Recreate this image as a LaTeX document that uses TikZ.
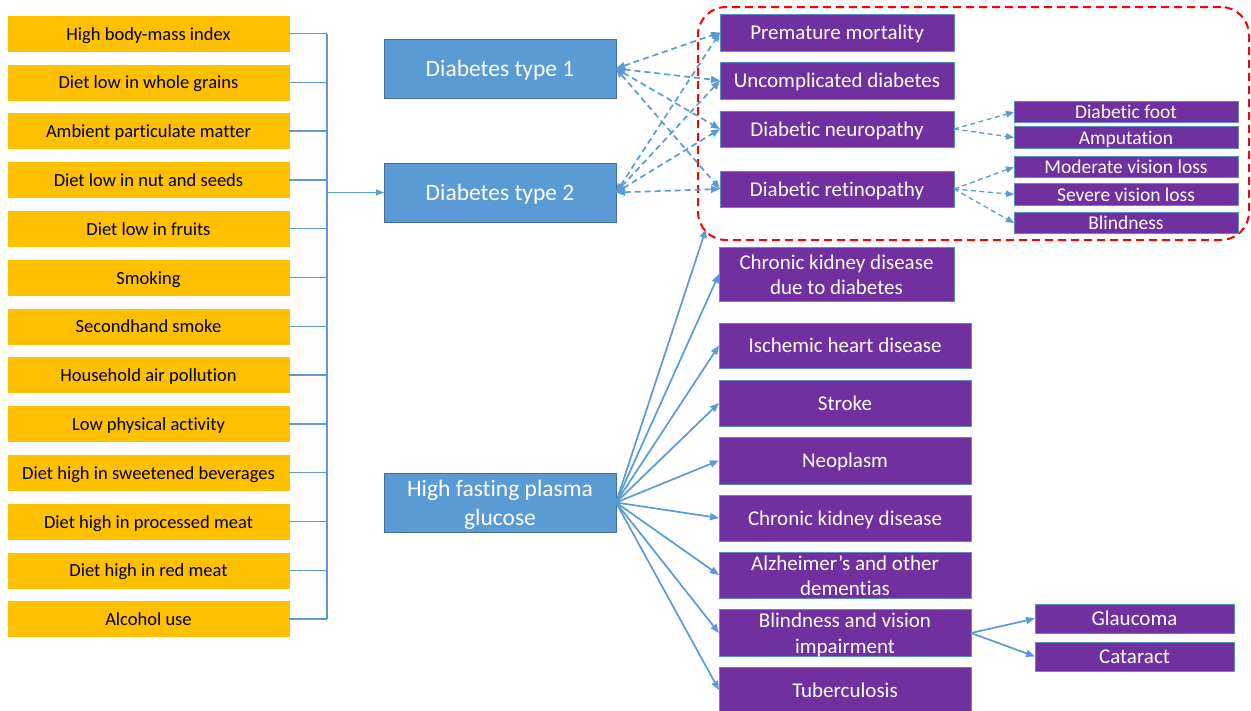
\documentclass[tikz,border=0pt]{standalone}
\usepackage{fontspec}
\setmainfont{Carlito}[RawFeature={-liga}]
\usetikzlibrary{arrows.meta}
\definecolor{ybg}{HTML}{FFC000}
\definecolor{bfill}{HTML}{5B9BD5}
\definecolor{bdraw}{HTML}{41719C}
\definecolor{pfill}{HTML}{7030A0}
\definecolor{pdraw}{HTML}{5B8DC0}
\definecolor{lnk}{HTML}{5B9BD5}
\newcommand{\firstline}[1]{\rule{0pt}{#1}}
\newcommand{\lastline}[1]{\rule[-#1]{0pt}{0pt}}
\tikzset{
  ybox/.style={text height=16pt, text depth=3pt, fill=ybg, draw=ybg, inner sep=0pt, outer sep=0pt, minimum width=281pt, minimum height=35pt, text=black, font=\fontsize{18.5}{22}\selectfont},
  bbase/.style={fill=bfill, draw=bdraw, line width=1pt, inner sep=0pt, outer sep=0pt, minimum width=232pt, minimum height=59pt, text=white, align=center, font=\fontsize{23.5}{29}\selectfont},
  bbox/.style={bbase, text height=20.5pt, text depth=4pt},
  pbase/.style={fill=pfill, draw=pdraw, line width=1pt, inner sep=0pt, outer sep=0pt, text=white, align=center, font=\fontsize{21}{25.5}\selectfont},
  pbox/.style={pbase, text height=18.7pt, text depth=4pt},
  sbox/.style={pbase, text height=17.7pt, text depth=4pt, minimum width=224pt, minimum height=21pt, font=\fontsize{19.5}{23}\selectfont},
  brk/.style={draw=lnk, line width=1.3pt},
  conn/.style={draw=lnk, line width=1.7pt, -{Triangle[length=9pt,width=7pt]}},
  dconn/.style={draw=lnk, line width=1.7pt, dash pattern=on 6pt off 4pt, {Triangle[length=9pt,width=7pt]}-{Triangle[length=9pt,width=7pt]}},
  sdconn/.style={draw=lnk, line width=1.3pt, dash pattern=on 5pt off 3.5pt, -{Triangle[length=8pt,width=6.5pt]}},
  redbox/.style={draw=red, line width=2pt, dash pattern=on 8pt off 5pt, rounded corners=28pt, inner sep=0pt, outer sep=0pt}
}
\begin{document}
\begin{tikzpicture}[x=1pt,y=-1pt]
\useasboundingbox (0,0) rectangle (1251,710);
\clip (0,0) rectangle (1251,710);
% risk factors
\foreach \t [count=\i from 0] in {High body-mass index,Diet low in whole grains,Ambient particulate matter,Diet low in nut and seeds,Diet low in fruits,Smoking,Secondhand smoke,Household air pollution,Low physical activity,Diet high in sweetened beverages,Diet high in processed meat,Diet high in red meat,Alcohol use}{
  \node[ybox] (y\i) at (148.5,{33.5+48.8*\i}) {\t};
}
% bracket
\coordinate (bt) at (327,33.5);
\coordinate (bb) at (327,619);
\coordinate (bm) at (327,192.5);
\draw[brk] (bt) -- (bb);
\foreach \i in {0,...,12}{ \draw[brk] (y\i.east) -- (y\i.east -| bt); }
% blue boxes
\node[bbox] (t1) at (500,68.5) {Diabetes type 1};
\node[bbox] (t2) at (500,192.5) {Diabetes type 2};
\node[bbase] (hf) at (500,502.5) {\firstline{22.9pt}High fasting plasma\\glucose\lastline{5.5pt}};
\draw[brk, -{Triangle[length=8pt,width=6pt]}] (bm) -- (t2.west);
% red dashed group
\node[redbox, minimum width=551pt, minimum height=233pt] (grp) at (973.5,123.5) {};
% diabetes complications
\node[pbox, minimum width=234pt, minimum height=37pt] (pm) at (837,32.5) {Premature mortality};
\node[pbox, minimum width=234pt, minimum height=37pt] (ud) at (837,80.5) {Uncomplicated diabetes};
\node[pbox, minimum width=234pt, minimum height=36pt] (dn) at (837,129) {Diabetic neuropathy};
\node[pbox, minimum width=234pt, minimum height=36pt] (dr) at (837,189) {Diabetic retinopathy};
\node[sbox] (foot) at (1126,112) {Diabetic foot};
\node[sbox] (amp) at (1126,137.5) {Amputation};
\node[sbox] (mod) at (1126,167) {Moderate vision loss};
\node[sbox] (sev) at (1126,194.5) {Severe vision loss};
\node[sbox] (bli) at (1126,223) {Blindness};
% dashed links
\foreach \s in {t1,t2}{ \foreach \d in {pm,ud,dn,dr}{ \draw[dconn] (\s.east) -- (\d.west); } }
\draw[sdconn] (dn.east) -- (foot.west);
\draw[sdconn] (dn.east) -- (amp.west);
\draw[sdconn] (dr.east) -- (mod.west);
\draw[sdconn] (dr.east) -- (sev.west);
\draw[sdconn] (dr.east) -- (bli.west);
% HFPG outcomes
\node[pbase, minimum width=235pt, minimum height=54pt] (ckdd) at (836.5,274) {\firstline{20.5pt}Chronic kidney disease\\due to diabetes\lastline{5pt}};
\node[pbox, minimum width=252pt, minimum height=45pt] (ihd) at (845,345.5) {Ischemic heart disease};
\node[pbox, minimum width=252pt, minimum height=46pt] (str) at (845,403) {Stroke};
\node[pbox, minimum width=252pt, minimum height=47pt] (neo) at (845,460.5) {Neoplasm};
\node[pbox, minimum width=252pt, minimum height=46pt] (ckd) at (845,518) {Chronic kidney disease};
\node[pbase, minimum width=252pt, minimum height=46pt] (alz) at (845,575) {\firstline{18pt}Alzheimer’s and other\\dementias\lastline{2.5pt}};
\node[pbase, minimum width=252pt, minimum height=46pt] (biv) at (845,633) {\firstline{18pt}Blindness and vision\\impairment\lastline{2.5pt}};
\node[pbox, minimum width=252pt, minimum height=46pt] (tb) at (845,690) {Tuberculosis};
\node[pbox, minimum width=199pt, minimum height=29pt] (gla) at (1134.5,618.5) {Glaucoma};
\node[pbox, minimum width=199pt, minimum height=29pt] (cat) at (1134.5,656.5) {Cataract};
\coordinate (gc) at (706,229);
\draw[conn] (hf.east) -- (gc);
\foreach \d in {ckdd,ihd,str,neo,ckd,alz,biv,tb}{ \draw[conn] (hf.east) -- (\d.west); }
\draw[conn] (biv.east) -- (gla.west);
\draw[conn] (biv.east) -- (cat.west);
\end{tikzpicture}
\end{document}
